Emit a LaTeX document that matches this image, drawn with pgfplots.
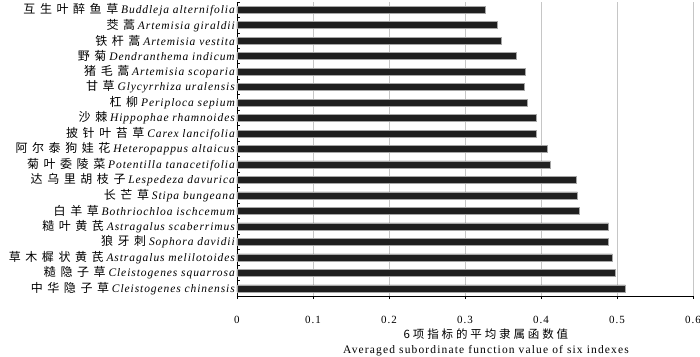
\documentclass[border=0pt]{standalone}
\usepackage{fontspec}
\setmainfont{Liberation Serif}
\newfontfamily\cjk[LetterSpace=38]{Noto Sans CJK SC}
\newfontfamily\cjkx[LetterSpace=25]{Noto Sans CJK SC}
\newfontfamily\lat[LetterSpace=8]{Liberation Serif}
\newfontfamily\latw[LetterSpace=10]{Liberation Serif}
\usepackage{pgfplots}
\pgfplotsset{compat=1.18}
\newcommand{\spn}[2]{{\fontsize{12}{12}\cjk #1} {\lat\itshape #2}}
\begin{document}
\begin{tikzpicture}
\begin{axis}[
  scale only axis, width=456pt, height=294pt,
  xbar, bar width=7pt,
  xmin=0, xmax=0.6, ymin=-0.5, ymax=18.5, y dir=reverse,
  axis lines=left, axis line style={-, line width=0.8pt},
  xtick={0,0.1,0.2,0.3,0.4,0.5,0.6},
  xticklabels={0,0.1,0.2,0.3,0.4,0.5,0.6},
  xtick align=outside, major x tick style={line width=0.8pt, black},
  major tick length=3pt,
  xticklabel style={font=\fontsize{11}{12}\selectfont\latw, yshift=-14pt},
  xmajorgrids, grid style={gray!45, line width=0.6pt},
  ytick={0,...,18},
  major y tick style={draw=none},
  minor ytick={-0.5,0.5,...,18.5},
  minor y tick style={line width=0.8pt, black},
  minor tick length=3pt,
  ytick align=inside,
  yticklabel style={font=\fontsize{11.5}{12}\selectfont, inner sep=2pt},
  yticklabels={
    {\spn{互生叶醉鱼草}{Buddleja alternifolia}},
    {\spn{茭蒿}{Artemisia giraldii}},
    {\spn{铁杆蒿}{Artemisia vestita}},
    {\spn{野菊}{Dendranthema indicum}},
    {\spn{猪毛蒿}{Artemisia scoparia}},
    {\spn{甘草}{Glycyrrhiza uralensis}},
    {\spn{杠柳}{Periploca sepium}},
    {\spn{沙棘}{Hippophae rhamnoides}},
    {\spn{披针叶苔草}{Carex lancifolia}},
    {\spn{阿尔泰狗娃花}{Heteropappus altaicus}},
    {\spn{菊叶委陵菜}{Potentilla tanacetifolia}},
    {\spn{达乌里胡枝子}{Lespedeza davurica}},
    {\spn{长芒草}{Stipa bungeana}},
    {\spn{白羊草}{Bothriochloa ischcemum}},
    {\spn{糙叶黄芪}{Astragalus scaberrimus}},
    {\spn{狼牙刺}{Sophora davidii}},
    {\spn{草木樨状黄芪}{Astragalus melilotoides}},
    {\spn{糙隐子草}{Cleistogenes squarrosa}},
    {\spn{中华隐子草}{Cleistogenes chinensis}}
  },
  xlabel={{\cjkx 6项指标的平均隶属函数值}\\{\latw Averaged subordinate function value of six indexes}},
  xlabel style={align=center, font=\fontsize{11.5}{14.5}\selectfont, yshift=2pt, xshift=21pt},
]
\addplot[fill=black!88, draw=gray!70, line width=0.5pt] coordinates {
  (0.326,0) (0.342,1) (0.348,2) (0.368,3) (0.379,4) (0.378,5) (0.382,6)
  (0.394,7) (0.394,8) (0.408,9) (0.412,10) (0.446,11) (0.448,12) (0.450,13)
  (0.489,14) (0.489,15) (0.494,16) (0.498,17) (0.511,18)
};
\end{axis}
\pgfresetboundingbox
\path[use as bounding box] (-237pt,-60pt) rectangle (463pt,296pt);
\end{tikzpicture}
\end{document}
